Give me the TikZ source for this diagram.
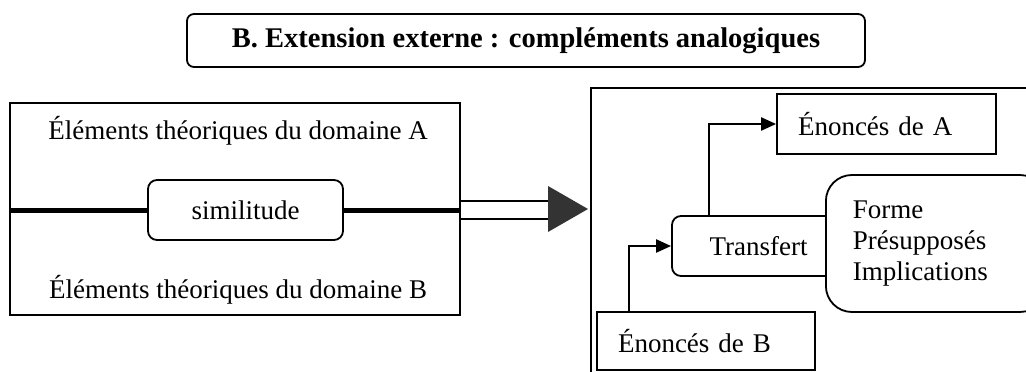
\documentclass[tikz,border=0pt]{standalone}
\usepackage{fontspec}
\setmainfont{Liberation Serif}
\usetikzlibrary{arrows.meta,calc}
\begin{document}
\begin{tikzpicture}[x=1pt,y=-1pt,
  box/.style={draw,line width=1.8pt,inner sep=0pt},
  txt/.style={font=\fontsize{27}{31}\selectfont},
  arr/.style={line width=2.2pt,-{Triangle[length=15pt,width=13pt]}},
  lefttxt/.style={box,txt,align=left,inner xsep=21pt,inner ysep=0pt},
]
\useasboundingbox (0,0) rectangle (1026,372);
\clip (0,0) rectangle (1026,372);
\fill[white] (0,0) rectangle (1026,372);

% title
\node[box,rounded corners=7pt,minimum width=678pt,minimum height=53pt,
      font=\fontsize{28.5}{32}\selectfont\bfseries] (title) at (526,40.5)
      {B. Extension externe : compléments analogiques};

% left part
\node[box,minimum width=450pt,minimum height=212pt] (left) at (235,209) {};
\node[txt] (ea) at (238,131) {Éléments théoriques du domaine A};
\node[txt] (eb) at (238,290) {Éléments théoriques du domaine B};
\node[box,txt,rounded corners=9pt,minimum width=195pt,minimum height=60pt] (sim) at (245.5,210) {similitude};
\draw[line width=5pt] (sim.west -| left.west) -- (sim.west);
\draw[line width=5pt] (sim.east) -- (sim.east -| left.east);

% big double arrow
\coordinate (tip) at (588,209);
\draw[line width=1.6pt] ($(left.east)+(0,-8)$) -- ($(left.east)+(90,-8)$);
\draw[line width=1.6pt] ($(left.east)+(0,10)$) -- ($(left.east)+(90,10)$);
\fill[black!80] (tip) -- ++(-40,-23) -- ++(0,46) -- cycle;

% right part
\node[box,minimum width=460pt,minimum height=320pt,anchor=north west] (outer) at (590,87) {};
\node[lefttxt,text width=177pt,minimum height=60pt] (enA) at (886.5,124) {Énoncés de A};
\node[box,txt,minimum width=173pt,minimum height=60pt,rounded corners=9pt] (transfert) at (758.5,246) {Transfert\hspace{8pt}};
\node[box,txt,fill=white,align=left,text width=166pt,inner xsep=27pt,minimum height=137pt,
      rounded corners=26pt,anchor=west] (forme) at (825,243.5)
      {Forme\\Présupposés\\Implications};
\node[lefttxt,text width=176pt,minimum height=58pt] (enB) at (706,341) {Énoncés de B};

\draw[arr] ($(transfert.north west)+(38,0)$) |- (enA.west);
\draw[arr] ($(enB.north west)+(33,0)$) |- (transfert.west);
\end{tikzpicture}
\end{document}
